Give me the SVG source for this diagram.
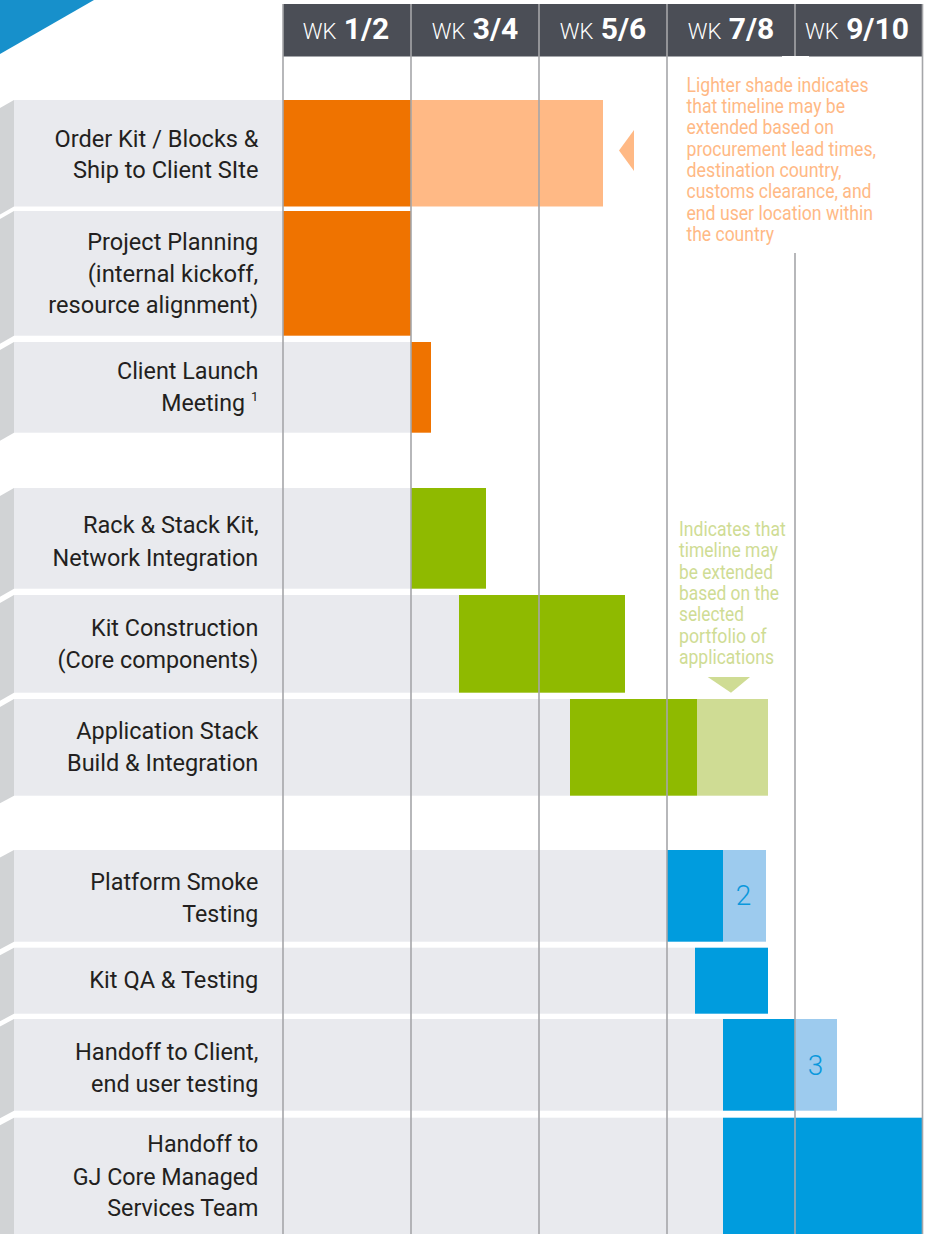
<svg xmlns="http://www.w3.org/2000/svg" width="930" height="1234" viewBox="0 0 930 1234">
<style>
.lbl{font-family:Roboto,"Liberation Sans",sans-serif;font-size:23.5px;fill:#231f20;text-anchor:end}
.hdr{font-family:Roboto,"Liberation Sans",sans-serif;fill:#ffffff;text-anchor:middle}
.wk{font-weight:300;font-size:22px}
.num{font-weight:700;font-size:30px}
.tab{fill:#d1d3d5}
.bg{fill:#e9eaee}
.or{fill:#ef7300}
.orl{fill:#ffb985}
.gr{fill:#8fba00}
.grl{fill:#cfdc94}
.bl{fill:#009cde}
.bll{fill:#9dcbee}
.grid{stroke:#a5a6a9;stroke-width:1.6;fill:none}
.note{font-family:Roboto,"Liberation Sans",sans-serif;font-size:19.5px}
.n2{font-family:Roboto,"Liberation Sans",sans-serif;font-size:28px;fill:#0a98dc;text-anchor:middle;font-weight:300}
</style>
<rect width="930" height="1234" fill="#ffffff"/>
<polygon points="0,0 94,0 0,54" fill="#1790cb"/>
<g id="header">
<rect x="283" y="4" width="640" height="52.5" fill="#4b4e56"/>
<text class="hdr" x="346" y="39"><tspan class="wk">WK</tspan><tspan class="num"> 1/2</tspan></text>
<text class="hdr" x="475" y="39"><tspan class="wk">WK</tspan><tspan class="num"> 3/4</tspan></text>
<text class="hdr" x="603" y="39"><tspan class="wk">WK</tspan><tspan class="num"> 5/6</tspan></text>
<text class="hdr" x="731" y="39"><tspan class="wk">WK</tspan><tspan class="num"> 7/8</tspan></text>
<text class="hdr" x="857" y="39"><tspan class="wk">WK</tspan><tspan class="num"> 9/10</tspan></text>
</g>
<g id="row1">
<polygon class="tab" points="0,108 14,100 14,206.5 0,214.5"/>
<rect class="bg" x="14" y="100" width="269" height="106.5"/>
<rect class="or" x="283" y="100" width="128" height="106.5"/>
<rect class="orl" x="411" y="100" width="192" height="106.5"/>
<text class="lbl" x="258.5" y="146.5" textLength="204" lengthAdjust="spacingAndGlyphs">Order Kit / Blocks &amp;</text>
<text class="lbl" x="258.5" y="178.3" textLength="185.6" lengthAdjust="spacingAndGlyphs">Ship to Client SIte</text>
</g>
<g id="row2">
<polygon class="tab" points="0,219 14,211 14,335.7 0,343.7"/>
<rect class="bg" x="14" y="211" width="269" height="124.7"/>
<rect class="or" x="283" y="211" width="128" height="124.7"/>
<text class="lbl" x="258.3" y="250" textLength="171" lengthAdjust="spacingAndGlyphs">Project Planning</text>
<text class="lbl" x="258.3" y="281.7" textLength="170.6" lengthAdjust="spacingAndGlyphs">(internal kickoff,</text>
<text class="lbl" x="258.3" y="313.3" textLength="210" lengthAdjust="spacingAndGlyphs">resource alignment)</text>
</g>
<g id="row3">
<polygon class="tab" points="0,350 14,342 14,432.7 0,440.7"/>
<rect class="bg" x="14" y="342" width="397" height="90.7"/>
<rect class="or" x="411" y="342" width="20" height="90.7"/>
<text class="lbl" x="258.3" y="379.3" textLength="141.3" lengthAdjust="spacingAndGlyphs">Client Launch</text>
<text class="lbl" x="245" y="410.7" textLength="83.7" lengthAdjust="spacingAndGlyphs">Meeting</text>
<text class="lbl" x="258.3" y="400.5" style="font-size:13px">1</text>
</g>
<g id="row4">
<polygon class="tab" points="0,496 14,488 14,588.7 0,596.7"/>
<rect class="bg" x="14" y="488" width="397" height="100.7"/>
<rect class="gr" x="411" y="488" width="75" height="100.7"/>
<text class="lbl" x="258.7" y="533.3" textLength="175.7" lengthAdjust="spacingAndGlyphs">Rack &amp; Stack Kit,</text>
<text class="lbl" x="258.3" y="566" textLength="205.7" lengthAdjust="spacingAndGlyphs">Network Integration</text>
</g>
<g id="row5">
<polygon class="tab" points="0,603 14,595 14,692.7 0,700.7"/>
<rect class="bg" x="14" y="595" width="445" height="97.7"/>
<rect class="gr" x="459" y="595" width="166" height="97.7"/>
<text class="lbl" x="258.3" y="636" textLength="167.3" lengthAdjust="spacingAndGlyphs">Kit Construction</text>
<text class="lbl" x="258.3" y="668.3" textLength="200.7" lengthAdjust="spacingAndGlyphs">(Core components)</text>
</g>
<g id="row6">
<polygon class="tab" points="0,707 14,699 14,795.7 0,803.2"/>
<rect class="bg" x="14" y="699" width="556" height="96.7"/>
<rect class="gr" x="570" y="699" width="127" height="96.7"/>
<rect class="grl" x="697" y="699" width="71" height="96.7"/>
<text class="lbl" x="258.3" y="739.3" textLength="182" lengthAdjust="spacingAndGlyphs">Application Stack</text>
<text class="lbl" x="258.3" y="770.7" textLength="191.3" lengthAdjust="spacingAndGlyphs">Build &amp; Integration</text>
</g>
<g id="row7">
<polygon class="tab" points="0,857.5 14,850 14,941.7 0,949.2"/>
<rect class="bg" x="14" y="850" width="653" height="91.7"/>
<rect class="bl" x="667" y="850" width="56" height="91.7"/>
<rect class="bll" x="723" y="850" width="43" height="91.7"/>
<text class="lbl" x="258.3" y="890" textLength="168" lengthAdjust="spacingAndGlyphs">Platform Smoke</text>
<text class="lbl" x="258.3" y="921.5" textLength="76" lengthAdjust="spacingAndGlyphs">Testing</text>
<text class="n2" x="743.5" y="905">2</text>
</g>
<g id="row8">
<polygon class="tab" points="0,955.2 14,947.7 14,1013.7 0,1021.2"/>
<rect class="bg" x="14" y="947.7" width="681" height="66"/>
<rect class="bl" x="695" y="947.7" width="73" height="66"/>
<text class="lbl" x="258.3" y="988" textLength="169" lengthAdjust="spacingAndGlyphs">Kit QA &amp; Testing</text>
</g>
<g id="row9">
<polygon class="tab" points="0,1026.5 14,1019 14,1110.7 0,1118.2"/>
<rect class="bg" x="14" y="1019" width="709" height="91.7"/>
<rect class="bl" x="723" y="1019" width="72" height="91.7"/>
<rect class="bll" x="795" y="1019" width="42" height="91.7"/>
<text class="lbl" x="258.3" y="1060" textLength="183.3" lengthAdjust="spacingAndGlyphs">Handoff to Client,</text>
<text class="lbl" x="258.3" y="1091.7" textLength="167.3" lengthAdjust="spacingAndGlyphs">end user testing</text>
<text class="n2" x="815.5" y="1075">3</text>
</g>
<g id="row10">
<polygon class="tab" points="0,1125.2 14,1117.7 14,1234 0,1234"/>
<rect class="bg" x="14" y="1117.7" width="709" height="116.3"/>
<rect class="bl" x="723" y="1117.7" width="200" height="116.3"/>
<text class="lbl" x="258.3" y="1151.7" textLength="111" lengthAdjust="spacingAndGlyphs">Handoff to</text>
<text class="lbl" x="258.3" y="1185" textLength="185.6" lengthAdjust="spacingAndGlyphs">GJ Core Managed</text>
<text class="lbl" x="258.3" y="1216" textLength="151" lengthAdjust="spacingAndGlyphs">Services Team</text>
</g>
<g id="connectors">
<line class="grid" x1="283" y1="4" x2="283" y2="1234"/>
<line class="grid" x1="411" y1="4" x2="411" y2="1234"/>
<line class="grid" x1="539" y1="4" x2="539" y2="1234"/>
<line class="grid" x1="667" y1="4" x2="667" y2="1234"/>
<line class="grid" x1="795" y1="4" x2="795" y2="56"/>
<line class="grid" x1="795" y1="253" x2="795" y2="1234"/>
<line class="grid" x1="922.5" y1="4" x2="922.5" y2="1234"/>
<rect x="782" y="56" width="27" height="2" fill="#ffffff"/>
</g>
<g id="note-orange" class="note" fill="#ffb985">
<polygon points="634,130 619,150.5 634,171"/>
<text x="686.5" y="91.7" textLength="182" lengthAdjust="spacingAndGlyphs">Lighter shade indicates</text>
<text x="686.5" y="113" textLength="158.5" lengthAdjust="spacingAndGlyphs">that timeline may be</text>
<text x="686.5" y="134.3" textLength="147.5" lengthAdjust="spacingAndGlyphs">extended based on</text>
<text x="686.5" y="155.7" textLength="189.5" lengthAdjust="spacingAndGlyphs">procurement lead times,</text>
<text x="686.5" y="177" textLength="155" lengthAdjust="spacingAndGlyphs">destination country,</text>
<text x="686.5" y="198.3" textLength="185" lengthAdjust="spacingAndGlyphs">customs clearance, and</text>
<text x="686.5" y="219.7" textLength="186.5" lengthAdjust="spacingAndGlyphs">end user location within</text>
<text x="686.5" y="241" textLength="87.5" lengthAdjust="spacingAndGlyphs">the country</text>
</g>
<g id="note-green" class="note" fill="#cfdc94">
<polygon points="707.7,677 750,677 731,692.7"/>
<text x="679" y="536" textLength="106.7" lengthAdjust="spacingAndGlyphs">Indicates that</text>
<text x="679" y="557.3" textLength="99" lengthAdjust="spacingAndGlyphs">timeline may</text>
<text x="679" y="578.7" textLength="94" lengthAdjust="spacingAndGlyphs">be extended</text>
<text x="679" y="600" textLength="100" lengthAdjust="spacingAndGlyphs">based on the</text>
<text x="679" y="621.3" textLength="65" lengthAdjust="spacingAndGlyphs">selected</text>
<text x="679" y="642.7" textLength="87.7" lengthAdjust="spacingAndGlyphs">portfolio of</text>
<text x="679" y="664" textLength="95" lengthAdjust="spacingAndGlyphs">applications</text>
</g>
</svg>
